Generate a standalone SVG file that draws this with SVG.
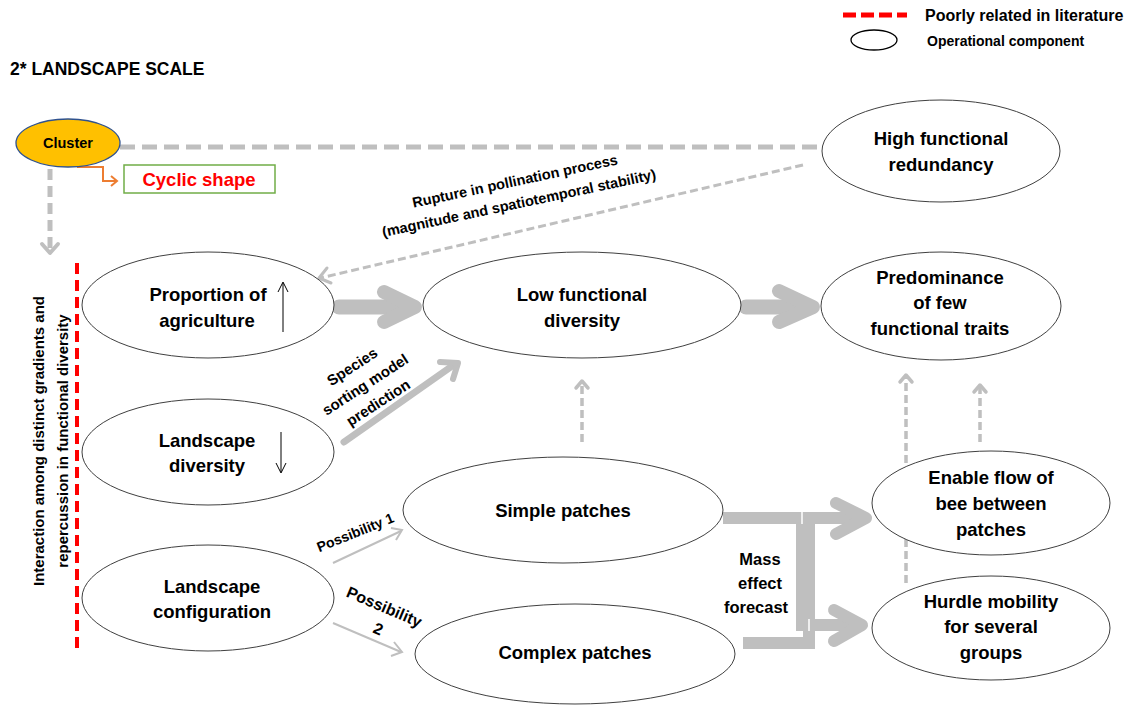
<svg xmlns="http://www.w3.org/2000/svg" width="1141" height="707" viewBox="0 0 1141 707">
<style>
text{font-family:"Liberation Sans",Arial,sans-serif;font-weight:bold;fill:#000}
.n{font-size:18.5px;text-anchor:middle}
.node{fill:#fff;stroke:#404040;stroke-width:1}
.g{fill:none;stroke:#BFBFBF;stroke-linecap:round;stroke-linejoin:round}
.gd{fill:none;stroke:#BFBFBF}
</style>
<rect width="1141" height="707" fill="#fff"/>
<g id="legend">
<line x1="843" y1="15" x2="907" y2="15" stroke="#FF0000" stroke-width="5" stroke-dasharray="13,5"/>
<text x="925" y="21" font-size="16">Poorly related in literature</text>
<ellipse cx="874" cy="40" rx="23" ry="10" fill="#fff" stroke="#000" stroke-width="1.3"/>
<text x="927" y="46" font-size="14">Operational component</text>
</g>
<g id="title"><text x="10" y="75" font-size="17.5">2* LANDSCAPE SCALE</text></g>
<g id="connectors">
<line class="gd" x1="120" y1="147" x2="822" y2="147" stroke-width="5" stroke-dasharray="15,7"/>
<line class="gd" x1="50" y1="169" x2="50" y2="254" stroke-width="5" stroke-dasharray="11,6"/>
<polyline class="g" points="42,244 50,253 58,244" stroke-width="4"/>
<polyline points="77,167 103,167 103,181 116,181" fill="none" stroke="#ED7D31" stroke-width="2"/>
<polyline points="111,176 117,181 111,186" fill="none" stroke="#ED7D31" stroke-width="2"/>
<line x1="77" y1="263" x2="77" y2="652" stroke="#FF0000" stroke-width="4" stroke-dasharray="11,6"/>
<line class="gd" x1="803" y1="165" x2="320" y2="278" stroke-width="3" stroke-dasharray="8,4"/>
<polyline class="g" points="331,283 319,278 327,268" stroke-width="3"/>
<polyline class="g" points="339,307 410,307" stroke-width="15" stroke-linecap="butt"/>
<polyline class="g" points="384,292 415,307 384,322" stroke-width="14"/>
<polyline class="g" points="746,307 805,307" stroke-width="15" stroke-linecap="butt"/>
<polyline class="g" points="779,291 813,307 779,322" stroke-width="14"/>
<line class="g" x1="344" y1="442" x2="455" y2="364" stroke-width="7"/>
<polyline class="g" points="440,362 458,363 453,379" stroke-width="6"/>
<line class="gd" x1="582" y1="442" x2="582" y2="384" stroke-width="3.5" stroke-dasharray="8,4"/>
<polyline class="g" points="576,388 582,381 588,388" stroke-width="3.5"/>
<line class="gd" x1="906" y1="583" x2="906" y2="378" stroke-width="3.5" stroke-dasharray="8,4"/>
<polyline class="g" points="900,382 906,375 912,382" stroke-width="3.5"/>
<line class="gd" x1="980" y1="442" x2="980" y2="388" stroke-width="3.5" stroke-dasharray="8,4"/>
<polyline class="g" points="974,392 980,385 986,392" stroke-width="3.5"/>
<line x1="333" y1="563" x2="401" y2="531" stroke="#BFBFBF" stroke-width="2"/>
<polyline points="391,528 402,530 396,540" fill="none" stroke="#BFBFBF" stroke-width="2"/>
<line x1="333" y1="623" x2="401" y2="652" stroke="#BFBFBF" stroke-width="2"/>
<polyline points="394,642 402,652 391,656" fill="none" stroke="#BFBFBF" stroke-width="2"/>
<polyline points="723,518 802,518 802,625 858,625" fill="none" stroke="#BFBFBF" stroke-width="12"/>
<polyline points="743,643 809,643 809,518 862,518" fill="none" stroke="#BFBFBF" stroke-width="12"/>
<line x1="802" y1="512" x2="802" y2="524" stroke="#fff" stroke-width="1.5"/>
<line x1="809" y1="619" x2="809" y2="631" stroke="#fff" stroke-width="1.5"/>
<polyline class="g" points="836,503 866,518 836,534" stroke-width="12"/>
<polyline class="g" points="834,610 862,625 834,641" stroke-width="12"/>
</g>
<g id="labels">
<text transform="translate(516,186) rotate(-12)" font-size="14.5" text-anchor="middle">Rupture in pollination process</text>
<text transform="translate(520,208) rotate(-12)" font-size="14.5" text-anchor="middle">(magnitude and spatiotemporal stability)</text>
<text transform="translate(355,371) rotate(-33)" font-size="15" text-anchor="middle">Species</text>
<text transform="translate(368,389) rotate(-33)" font-size="15" text-anchor="middle">sorting model</text>
<text transform="translate(381,407) rotate(-33)" font-size="15" text-anchor="middle">prediction</text>
<text transform="translate(357,537) rotate(-22)" font-size="14" text-anchor="middle">Possibility 1</text>
<text transform="translate(382,612) rotate(23)" font-size="16" text-anchor="middle">Possibility</text>
<text transform="translate(376,634) rotate(23)" font-size="16" text-anchor="middle">2</text>
<text x="760" y="565" font-size="16.5" text-anchor="middle">Mass</text>
<text x="760" y="589" font-size="16.5" text-anchor="middle">effect</text>
<text x="756" y="613" font-size="16.5" text-anchor="middle">forecast</text>
<text transform="translate(44,441) rotate(-90)" font-size="15" text-anchor="middle">Interaction among distinct gradients and</text>
<text transform="translate(68,441) rotate(-90)" font-size="15" text-anchor="middle">repercussion in functional diversity</text>
</g>
<g id="cluster">
<ellipse cx="68" cy="143" rx="52" ry="24" fill="#FFC000" stroke="#2F528F" stroke-width="1.3"/>
<text x="68" y="148" font-size="14.5" text-anchor="middle">Cluster</text>
</g>
<g id="cyclic">
<rect x="124" y="165" width="151" height="28" fill="#fff" stroke="#70AD47" stroke-width="1.5"/>
<text x="199" y="186" font-size="18.5" text-anchor="middle" style="fill:#FF0000">Cyclic shape</text>
</g>
<g id="high">
<ellipse class="node" cx="941" cy="151" rx="119" ry="51"/>
<text class="n" x="941" y="145">High functional</text>
<text class="n" x="941" y="171">redundancy</text>
</g>
<g id="proportion">
<ellipse class="node" cx="208" cy="305" rx="126" ry="53"/>
<text class="n" x="208" y="301">Proportion of</text>
<text class="n" x="207" y="327">agriculture</text>
<line x1="283" y1="332" x2="283" y2="283" stroke="#000" stroke-width="1"/>
<polyline points="278,292 283,282 288,292" fill="none" stroke="#000" stroke-width="1"/>
</g>
<g id="low">
<ellipse class="node" cx="582" cy="305" rx="159" ry="53"/>
<text class="n" x="582" y="301">Low functional</text>
<text class="n" x="582" y="327">diversity</text>
</g>
<g id="predominance">
<ellipse class="node" cx="941" cy="306" rx="120" ry="54"/>
<text class="n" x="940" y="284">Predominance</text>
<text class="n" x="940" y="309">of few</text>
<text class="n" x="940" y="335">functional traits</text>
</g>
<g id="landdiv">
<ellipse class="node" cx="208" cy="452" rx="126" ry="53"/>
<text class="n" x="207" y="447">Landscape</text>
<text class="n" x="207" y="472">diversity</text>
<line x1="281" y1="432" x2="281" y2="472" stroke="#000" stroke-width="1"/>
<polyline points="276,463 281,473 286,463" fill="none" stroke="#000" stroke-width="1"/>
</g>
<g id="landconf">
<ellipse class="node" cx="208" cy="598" rx="126" ry="53"/>
<text class="n" x="212" y="593">Landscape</text>
<text class="n" x="212" y="618">configuration</text>
</g>
<g id="simple">
<ellipse class="node" cx="563" cy="510" rx="160" ry="53"/>
<text class="n" x="563" y="517">Simple patches</text>
</g>
<g id="complex">
<ellipse class="node" cx="575" cy="654" rx="160" ry="50"/>
<text class="n" x="575" y="659">Complex patches</text>
</g>
<g id="enable">
<ellipse class="node" cx="991" cy="503" rx="119" ry="52"/>
<text class="n" x="991" y="484">Enable flow of</text>
<text class="n" x="991" y="510">bee between</text>
<text class="n" x="991" y="536">patches</text>
</g>
<g id="hurdle">
<ellipse class="node" cx="991" cy="628" rx="119" ry="52"/>
<text class="n" x="991" y="608">Hurdle mobility</text>
<text class="n" x="991" y="633">for several</text>
<text class="n" x="991" y="659">groups</text>
</g>
</svg>
